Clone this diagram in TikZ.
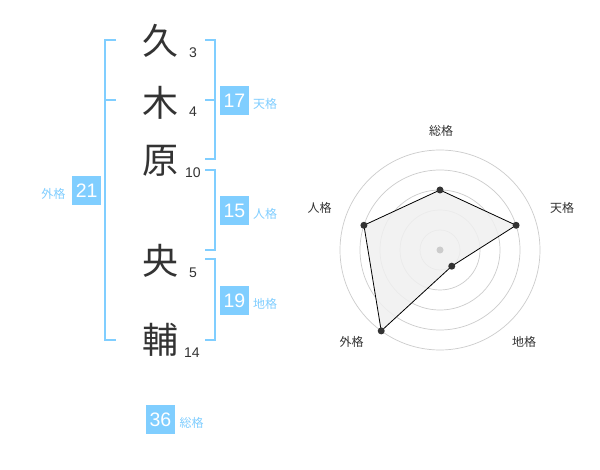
\documentclass[tikz,border=0pt]{standalone}
\usepackage{fontspec}
\setmainfont{Liberation Sans}
\newfontfamily\jpfont{Noto Sans CJK JP}
\definecolor{kblue}{RGB}{128,206,255}
\definecolor{ktext}{RGB}{51,51,51}
\definecolor{kring}{RGB}{204,204,204}
\definecolor{kfill}{RGB}{240,240,240}
\begin{document}
\begin{tikzpicture}[x=1pt,y=-1pt,
  kanji/.style={font=\jpfont\fontsize{36}{36}\selectfont,text=ktext,inner sep=0pt},
  strokenum/.style={font=\fontsize{14}{14}\selectfont,text=ktext,inner sep=0pt},
  numbox/.style={fill=kblue,text=white,minimum width=29pt,minimum height=29pt,inner sep=0pt,font=\fontsize{19.5}{19.5}\selectfont},
  kaku/.style={font=\jpfont\fontsize{12}{12}\selectfont,text=kblue,inner sep=0pt},
  bracket/.style={draw=kblue,line width=2pt},
  rlabel/.style={font=\jpfont\fontsize{12}{12}\selectfont,text=ktext,inner sep=0pt},
  ring/.style={draw=kring,line width=0.7pt},
  pt/.style={circle,fill=ktext,inner sep=0pt,minimum size=7pt}]
\useasboundingbox (0,0) rectangle (600,470);
\fill[white] (0,0) rectangle (600,470);
% kanji
\node[kanji] (k1) at (160,41) {久};
\node[kanji] (k2) at (160,103) {木};
\node[kanji] (k3) at (160,161) {原};
\node[kanji] (k4) at (160,261) {央};
\node[kanji] (k5) at (160,340) {輔};
\node[strokenum] (n1) at (193,52.3) {3};
\node[strokenum] (n2) at (193,112) {4};
\node[strokenum] (n3) at (193,172.7) {10};
\node[strokenum] (n4) at (193,272.7) {5};
\node[strokenum] (n5) at (192,352.7) {14};
% brackets
\draw[bracket] (116,40) -- (105,40) -- (105,340) -- (116,340);
\draw[bracket] (105,100) -- (116,100);
\draw[bracket] (205,40) -- (215,40) -- (215,159.5) -- (205,159.5);
\draw[bracket] (205,100) -- (215,100);
\draw[bracket] (205,170) -- (215,170) -- (215,250) -- (205,250);
\draw[bracket] (205,259.5) -- (215,259.5) -- (215,340) -- (205,340);
% boxes
\node[numbox] (ten) at (234.5,100.5) {17};
\node[kaku,anchor=west] (tenl) at (253,103.5) {天格};
\node[numbox] (jin) at (234.5,210.5) {15};
\node[kaku,anchor=west] (jinl) at (253,213.5) {人格};
\node[numbox] (chi) at (234.5,300.5) {19};
\node[kaku,anchor=west] (chil) at (253,303.5) {地格};
\node[numbox] (gai) at (86.7,190.5) {21};
\node[kaku,anchor=east] (gail) at (65.5,193.5) {外格};
\node[numbox] (sou) at (160.5,419.5) {36};
\node[kaku,anchor=west] (soul) at (179.5,422.5) {総格};
% radar
\coordinate (c) at (440,250);
\foreach \r in {20,40,60,80,100} \draw[ring] (c) circle[radius=\r];
\coordinate (p1) at ([shift={(-90:60)}]c);
\coordinate (p2) at ([shift={(-18:80)}]c);
\coordinate (p3) at ([shift={(54:20)}]c);
\coordinate (p4) at ([shift={(126:100)}]c);
\coordinate (p5) at ([shift={(198:80)}]c);
\fill[kfill,opacity=0.85] (p1) -- (p2) -- (p3) -- (p4) -- (p5) -- cycle;
\draw[black,line width=0.8pt,line join=round] (p1) -- (p2) -- (p3) -- (p4) -- (p5) -- cycle;
\node[circle,fill=kring,inner sep=0pt,minimum size=7pt] (cd) at (c) {};
\foreach \i in {1,...,5} \node[pt] (d\i) at (p\i) {};
\node[rlabel] (l1) at (441,130.5) {総格};
\node[rlabel] (l2) at (562,208.3) {天格};
\node[rlabel] (l3) at (524,342) {地格};
\node[rlabel] (l4) at (351.7,342) {外格};
\node[rlabel] (l5) at (319.5,208.3) {人格};
\end{tikzpicture}
\end{document}
